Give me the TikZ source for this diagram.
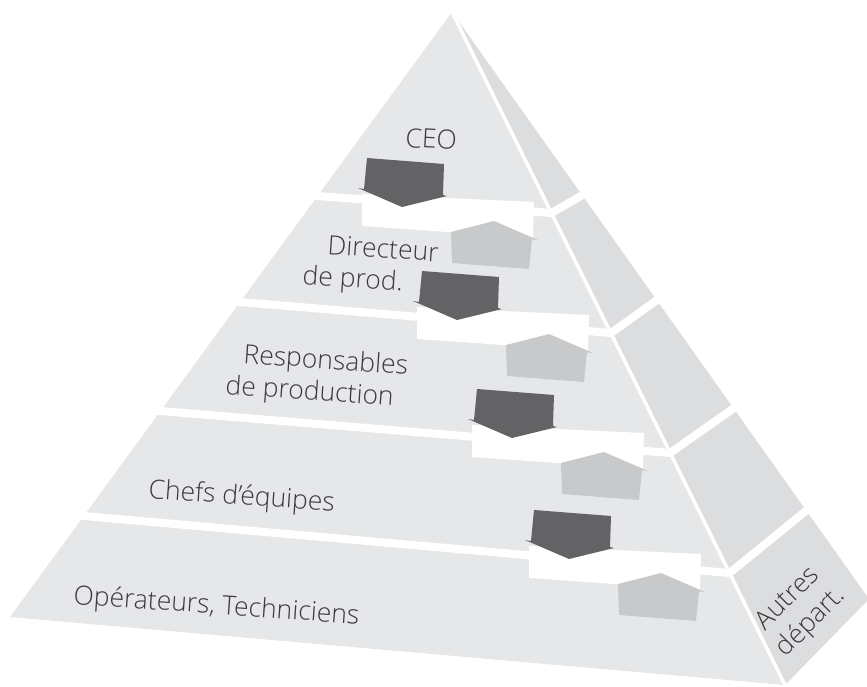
\documentclass[tikz,border=0pt]{standalone}
\usepackage{fontspec}
\IfFontExistsTF{Open Sans Light}{\setmainfont{Open Sans Light}}{\setmainfont{Open Sans}}
\usetikzlibrary{calc}
\definecolor{frontc}{HTML}{E6E7E8}
\definecolor{sidec}{HTML}{DCDDDF}
\definecolor{downc}{HTML}{636365}
\definecolor{upc}{HTML}{C8C9CB}
\definecolor{txtc}{HTML}{3A3A3C}
\begin{document}
\begin{tikzpicture}[x=1pt,y=-1pt,
  band/.style={white, line width=8pt, line join=round},
  lbl/.style={text=txtc, font=\fontsize{26.5}{33}\selectfont, inner sep=0pt, anchor=base west},
  unit/.pic={
    \fill[white] (-5,36) -- (167,44) -- (166,80) -- (-5,68) -- cycle;
    \fill[downc] (0,0) -- (77,6) -- (76,37) -- (80,38) -- (35,49) -- (-9,30) -- (-3,31) -- cycle;
    \fill[upc] (84,74) -- (127,63) -- (171,82) -- (165,81.5) -- (162,111) -- (85,105) -- cycle;
  }]
\useasboundingbox (0,0) rectangle (867,686);
% pyramid faces
\coordinate (apex) at (452,12);
\coordinate (bl) at (10,617);
\coordinate (br) at (785,685);
\coordinate (rc) at (869,599);
\fill[frontc] (apex) -- (bl) -- (br) -- cycle;
\fill[sidec] (apex) -- (br) -- (rc) -- cycle;
% layer separations
\coordinate (l1) at (317,196);   \coordinate (d1) at (551.5,213); \coordinate (r1) at (582.5,195);
\coordinate (l2) at (240,302);   \coordinate (d2) at (611,333);   \coordinate (r2) at (657,300);
\coordinate (l3) at (160.5,411); \coordinate (d3) at (670,453);   \coordinate (r3) at (734,408);
\coordinate (l4) at (84,516);    \coordinate (d4) at (729.5,573); \coordinate (r4) at (807,510);
\foreach \i in {1,2,3,4}{
  \draw[band, shorten <=-15pt, shorten >=-15pt] (l\i) -- (d\i) -- (r\i);
}
\draw[white, line width=3.5pt, shorten >=-6pt] (apex) -- (br);
% arrows between levels
\pic (u1) at (367,158) {unit};
\pic (u2) at (422,271) {unit};
\pic (u3) at (477,389) {unit};
\pic (u4) at (534,510) {unit};
% labels
\node[lbl, rotate=-3] (ceo) at (405,147) {CEO};
\node[lbl, rotate=-4] (dir1) at (327,254) {Directeur};
\node[lbl, rotate=-4] (dir2) at (302,284) {de prod.};
\node[lbl, rotate=-4] (resp1) at (243,363) {Responsables};
\node[lbl, rotate=-4] (resp2) at (225,394) {de production};
\node[lbl, rotate=-4] (chefs) at (148,498) {Chefs d’équipes};
\node[lbl, rotate=-4] (ops) at (73,604) {Opérateurs, Techniciens};
\node[lbl, anchor=center, align=center, rotate=45] (aut) at (800,611) {Autres\\départ.};
\end{tikzpicture}
\end{document}
